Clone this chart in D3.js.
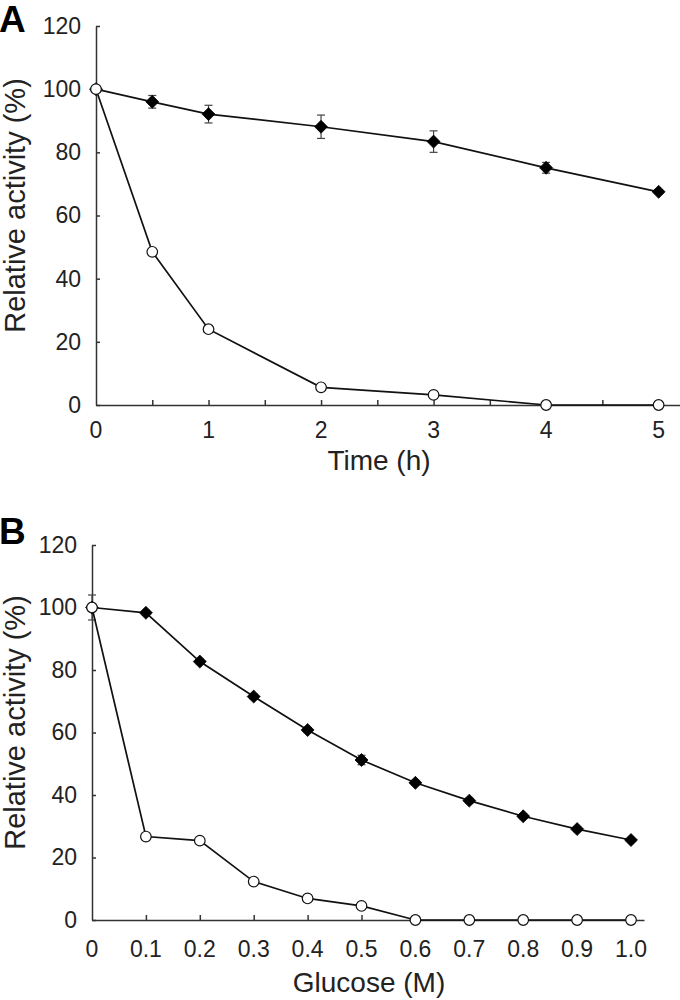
<!DOCTYPE html>
<html>
<head>
<meta charset="utf-8">
<script src="https://cdn.jsdelivr.net/npm/d3@7"></script>
<style>
  html, body { margin: 0; padding: 0; background: #fff; }
  svg { display: block; }
  text { font-family: "Liberation Sans", Arial, sans-serif; fill: #222; }
</style>
</head>
<body>
<svg id="chart" width="680" height="1000"></svg>
<script>
// ---- Data ----
const timeA      = [0, 0.5, 1, 2, 3, 4, 5];
const filledA    = [100, 96.0, 92.1, 88.1, 83.4, 75.1, 67.5];
const filledAErr = [0, 2.0, 2.8, 3.7, 3.4, 1.7, 0.6];
const openA      = [100, 48.5, 24.0, 5.6, 3.2, 0, 0];

const glucoseB   = [0, 0.1, 0.2, 0.3, 0.4, 0.5, 0.6, 0.7, 0.8, 0.9, 1.0];
const filledB    = [100, 98.3, 82.7, 71.5, 60.8, 51.2, 43.9, 38.2, 33.2, 29.1, 25.6];
const filledBErr = [4, 0.8, 0.8, 0.8, 0.8, 1.5, 0.8, 0.8, 0.8, 0.8, 0.6];
const openB      = [100, 26.7, 25.4, 12.3, 6.9, 4.5, 0, 0, 0, 0, 0];

const yTicks      = [0, 20, 40, 60, 80, 100, 120];
const xTicksA     = [0.5, 1, 1.5, 2, 2.5, 3, 3.5, 4, 4.5, 5];
const xLabelsA    = [0, 1, 2, 3, 4, 5];
const xTicksB     = [0.1, 0.2, 0.3, 0.4, 0.5, 0.6, 0.7, 0.8, 0.9, 1.0];
const xLabelsB    = [0, 0.1, 0.2, 0.3, 0.4, 0.5, 0.6, 0.7, 0.8, 0.9, 1.0];

const svg = d3.select("#chart");

// diamond symbol (square rotated 45deg)
const diamondType = {
  draw(ctx, size) {
    const r = Math.sqrt(size / 2);
    ctx.moveTo(0, -r); ctx.lineTo(r, 0); ctx.lineTo(0, r); ctx.lineTo(-r, 0); ctx.closePath();
  }
};

function panel(cfg) {
  const g = svg.append("g");
  const x = d3.scaleLinear().domain(cfg.xDomain).range(cfg.xRange);
  const y = d3.scaleLinear().domain([0, 120]).range(cfg.yRange);

  // panel letter
  g.append("text").attr("x", cfg.letterX).attr("y", cfg.letterY)
    .attr("font-size", 37).attr("font-weight", "bold").style("fill", "#000")
    .text(cfg.letter);

  // y axis
  const ya = g.append("g").attr("transform", `translate(${cfg.xRange[0]},0)`)
    .call(d3.axisLeft(y).tickValues(yTicks).tickSize(-4).tickSizeOuter(0).tickPadding(15));
  ya.selectAll("text").attr("font-size", 23).attr("font-family", null);
  ya.selectAll("line, path").attr("stroke", "#333").attr("stroke-width", 1.5);

  // x axis ticks (inward)
  const xa = g.append("g").attr("transform", `translate(0,${cfg.yRange[0]})`)
    .call(d3.axisBottom(x).tickValues(cfg.xTicks).tickSize(-5).tickSizeOuter(0).tickFormat(""));
  xa.selectAll("line, path").attr("stroke", "#333").attr("stroke-width", 1.5);
  // x labels
  g.append("g").selectAll("text").data(cfg.xLabels).join("text")
    .attr("x", d => x(d)).attr("y", cfg.yRange[0] + cfg.xLabelOffset)
    .attr("text-anchor", "middle").attr("font-size", 23)
    .text(cfg.xFormat);

  // axis titles
  g.append("text")
    .attr("transform", `translate(${cfg.yTitleX},${(cfg.yRange[0] + cfg.yRange[1]) / 2 - 10}) rotate(-90)`)
    .attr("text-anchor", "middle").attr("font-size", 29)
    .text("Relative activity (%)");
  g.append("text").attr("x", cfg.xTitleX).attr("y", cfg.xTitleY)
    .attr("text-anchor", "middle").attr("font-size", 28)
    .text(cfg.xTitle);

  const line = d3.line().x(d => x(d[0])).y(d => y(d[1]));
  const filled = cfg.xs.map((v, i) => [v, cfg.filled[i], cfg.err[i]]);
  const open = cfg.xs.map((v, i) => [v, cfg.open[i]]);

  // filled series line
  g.append("path").datum(filled).attr("d", line)
    .attr("fill", "none").attr("stroke", "#111").attr("stroke-width", 1.7);
  // error bars
  const eb = g.append("g").attr("stroke", "#444").attr("stroke-width", 1.2);
  filled.forEach(d => {
    if (d[2] <= 0) return;
    eb.append("line").attr("x1", x(d[0])).attr("x2", x(d[0]))
      .attr("y1", y(d[1] - d[2])).attr("y2", y(d[1] + d[2]));
    [d[1] - d[2], d[1] + d[2]].forEach(v => {
      eb.append("line").attr("x1", x(d[0]) - 4).attr("x2", x(d[0]) + 4)
        .attr("y1", y(v)).attr("y2", y(v));
    });
  });
  g.append("g").selectAll("path").data(filled).join("path")
    .attr("transform", d => `translate(${x(d[0])},${y(d[1])})`)
    .attr("d", d3.symbol().type(diamondType).size(84))
    .attr("fill", "#000").attr("stroke", "#000").attr("stroke-width", 0.8);

  // open series
  g.append("path").datum(open).attr("d", line)
    .attr("fill", "none").attr("stroke", "#111").attr("stroke-width", 1.7);
  g.append("g").selectAll("circle").data(open).join("circle")
    .attr("cx", d => x(d[0])).attr("cy", d => y(d[1])).attr("r", 5.3)
    .attr("fill", "#fff").attr("stroke", "#111").attr("stroke-width", 1.2);
}

panel({
  letter: "A", letterX: -1, letterY: 32,
  xDomain: [0, 5.19], xRange: [96, 680], yRange: [405, 26],
  xTicks: xTicksA, xLabels: xLabelsA, xFormat: d => d3.format("d")(d),
  xLabelOffset: 33, xTitle: "Time (h)", xTitleX: 379, xTitleY: 470, yTitleX: 25,
  xs: timeA, filled: filledA, err: filledAErr, open: openA
});

panel({
  letter: "B", letterX: -1, letterY: 544,
  xDomain: [0, 1.0241], xRange: [92, 644], yRange: [920, 545],
  xTicks: xTicksB, xLabels: xLabelsB, xFormat: d => d === 0 ? "0" : d3.format(".1f")(d),
  xLabelOffset: 37, xTitle: "Glucose (M)", xTitleX: 369, xTitleY: 992, yTitleX: 25,
  xs: glucoseB, filled: filledB, err: filledBErr, open: openB
});
</script>
</body>
</html>
